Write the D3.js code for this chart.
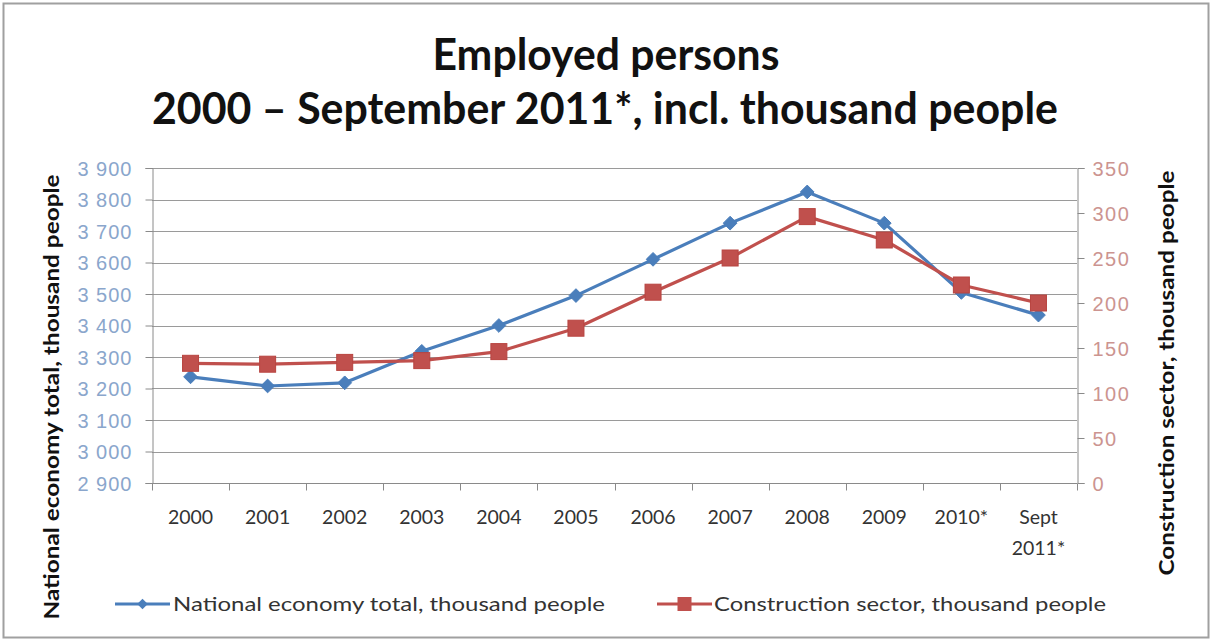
<!DOCTYPE html>
<html>
<head>
<meta charset="utf-8">
<script src="https://cdn.jsdelivr.net/npm/d3@7"></script>
<style>
  html, body { margin: 0; padding: 0; background: #fff; }
  svg { display: block; font-family: Lato, "Open Sans", sans-serif; }
</style>
</head>
<body>
<svg id="chart" width="1212" height="640"></svg>
<script>
// Categories (x axis)
const years = ["2000", "2001", "2002", "2003", "2004", "2005", "2006", "2007", "2008", "2009", "2010*", "Sept\n2011*"];
// Employed persons, national economy total (thousand people) - left axis
const nationalTotal = [3237, 3208, 3218, 3318, 3400, 3495, 3610, 3725, 3824, 3725, 3505, 3433];
// Employed persons, construction sector (thousand people) - right axis
const construction = [133, 132, 134, 136, 146, 172, 212, 250, 296, 270, 220, 200];
// Axis ticks
const leftTicks = [2900, 3000, 3100, 3200, 3300, 3400, 3500, 3600, 3700, 3800, 3900];
const rightTicks = [0, 50, 100, 150, 200, 250, 300, 350];

const titleLines = ["Employed persons", "2000 \u2013 September 2011*, incl. thousand people"];
const seriesNames = ["National economy total, thousand people", "Construction sector, thousand people"];
const leftAxisTitle = "National economy total, thousand people";
const rightAxisTitle = "Construction sector, thousand people";

const blue = "#4a7ebb", red = "#c0504d";
const svg = d3.select("#chart");

// Outer frame
svg.append("rect").attr("x", 3.5).attr("y", 3.5).attr("width", 1205).attr("height", 634)
  .attr("fill", "#fff").attr("stroke", "#a0a0a0").attr("stroke-width", 2);

const plot = { left: 152, right: 1077, top: 168, bottom: 483 };

const x = d3.scaleBand().domain(d3.range(years.length)).range([plot.left, plot.right]);
const yL = d3.scaleLinear().domain([2900, 3900]).range([plot.bottom, plot.top]);
const yR = d3.scaleLinear().domain([0, 350]).range([plot.bottom, plot.top]);

// Horizontal gridlines
svg.append("g").selectAll("line").data(leftTicks.slice(1)).join("line")
  .attr("x1", plot.left).attr("x2", plot.right)
  .attr("y1", d => Math.round(yL(d)) + 0.5).attr("y2", d => Math.round(yL(d)) + 0.5)
  .attr("stroke", "#9a9a9a").attr("stroke-width", 1);

// Left axis
const gL = svg.append("g").attr("transform", `translate(${plot.left + 0.5},0)`)
  .call(d3.axisLeft(yL).tickValues(leftTicks).tickSize(7).tickPadding(13)
    .tickFormat(d => d3.format(",")(d).replace(",", " ")));
gL.select(".domain").attr("stroke", "#8a8a8a");
gL.selectAll(".tick line").attr("stroke", "#8a8a8a");
gL.selectAll("text").attr("fill", "#8aa6cc").attr("font-size", 20)
  .attr("letter-spacing", 1).attr("dy", "0.36em");

// Right axis
const gR = svg.append("g").attr("transform", `translate(${plot.right + 0.5},0)`)
  .call(d3.axisRight(yR).tickValues(rightTicks).tickSize(7).tickPadding(8));
gR.select(".domain").attr("stroke", "#8a8a8a");
gR.selectAll(".tick line").attr("stroke", "#8a8a8a");
gR.selectAll("text").attr("fill", "#cc9490").attr("font-size", 20)
  .attr("letter-spacing", 1.5).attr("dy", "0.36em");

// Bottom axis with ticks at category boundaries
const gB = svg.append("g").attr("transform", `translate(0,${plot.bottom + 0.5})`);
gB.append("line").attr("x1", plot.left).attr("x2", plot.right).attr("stroke", "#8a8a8a");
gB.selectAll("line.tk").data(d3.range(years.length + 1)).join("line").attr("class", "tk")
  .attr("x1", i => Math.round(plot.left + i * x.step()) + 0.5)
  .attr("x2", i => Math.round(plot.left + i * x.step()) + 0.5)
  .attr("y1", 0).attr("y2", 7).attr("stroke", "#8a8a8a");
const xl = gB.selectAll("text").data(years).join("text")
  .attr("x", (d, i) => x(i) + x.bandwidth() / 2)
  .attr("y", 40)
  .attr("text-anchor", "middle").attr("font-size", 19.5).attr("fill", "#333");
xl.each(function (d) {
  const parts = d.split("\n");
  d3.select(this).selectAll("tspan").data(parts).join("tspan")
    .attr("x", d3.select(this).attr("x"))
    .attr("dy", (p, j) => j === 0 ? 0 : 31)
    .text(p => p);
});

// Lines and markers
const cx = i => x(i) + x.bandwidth() / 2;
const lineL = d3.line().x((d, i) => cx(i)).y(d => yL(d));
const lineR = d3.line().x((d, i) => cx(i)).y(d => yR(d));

svg.append("path").datum(nationalTotal).attr("d", lineL)
  .attr("fill", "none").attr("stroke", blue).attr("stroke-width", 3.2).attr("stroke-linejoin", "round");
svg.append("g").selectAll("path").data(nationalTotal).join("path")
  .attr("d", d3.symbol(d3.symbolDiamond2, 120)())
  .attr("transform", (d, i) => `translate(${cx(i)},${yL(d)})`)
  .attr("fill", blue).attr("stroke", blue).attr("stroke-width", 1);

svg.append("path").datum(construction).attr("d", lineR)
  .attr("fill", "none").attr("stroke", red).attr("stroke-width", 3.2).attr("stroke-linejoin", "round");
svg.append("g").selectAll("rect").data(construction).join("rect")
  .attr("x", (d, i) => cx(i) - 8).attr("y", d => yR(d) - 8)
  .attr("width", 16).attr("height", 16)
  .attr("fill", red).attr("stroke", "#b84440").attr("stroke-width", 1);

// Title
svg.append("text").attr("x", 606).attr("y", 70).attr("text-anchor", "middle")
  .attr("font-size", 43).attr("font-weight", "bold").attr("fill", "#111")
  .attr("textLength", 347).attr("lengthAdjust", "spacingAndGlyphs").text(titleLines[0]);
svg.append("text").attr("x", 605).attr("y", 124).attr("text-anchor", "middle")
  .attr("font-size", 43).attr("font-weight", "bold").attr("fill", "#111")
  .attr("textLength", 906).attr("lengthAdjust", "spacingAndGlyphs").text(titleLines[1]);

// Axis titles
svg.append("text").attr("transform", "translate(59,397) rotate(-90)")
  .attr("text-anchor", "middle").attr("font-size", 20).attr("font-weight", "bold").attr("fill", "#111")
  .attr("textLength", 445).attr("lengthAdjust", "spacingAndGlyphs")
  .text(leftAxisTitle);
svg.append("text").attr("transform", "translate(1174,373) rotate(-90)")
  .attr("text-anchor", "middle").attr("font-size", 20).attr("font-weight", "bold").attr("fill", "#111")
  .attr("textLength", 405).attr("lengthAdjust", "spacingAndGlyphs")
  .text(rightAxisTitle);

// Legend
const legendY = 604;
const legend = [
  { name: seriesNames[0], color: blue, x0: 115, shape: "diamond", tx: 173, tw: 432 },
  { name: seriesNames[1], color: red, x0: 657, shape: "square", tx: 714, tw: 392 }
];
const lg = svg.append("g");
legend.forEach(l => {
  lg.append("line").attr("x1", l.x0).attr("x2", l.x0 + 55).attr("y1", legendY).attr("y2", legendY)
    .attr("stroke", l.color).attr("stroke-width", 3.2);
  if (l.shape === "diamond") {
    lg.append("path").attr("d", d3.symbol(d3.symbolDiamond2, 70)())
      .attr("transform", `translate(${l.x0 + 27.5},${legendY})`).attr("fill", l.color);
  } else {
    lg.append("rect").attr("x", l.x0 + 27.5 - 7).attr("y", legendY - 7).attr("width", 14).attr("height", 14)
      .attr("fill", l.color);
  }
  lg.append("text").attr("x", l.tx).attr("y", legendY + 7).attr("font-size", 20).attr("fill", "#333")
    .attr("textLength", l.tw).attr("lengthAdjust", "spacingAndGlyphs").text(l.name);
});
</script>
</body>
</html>
